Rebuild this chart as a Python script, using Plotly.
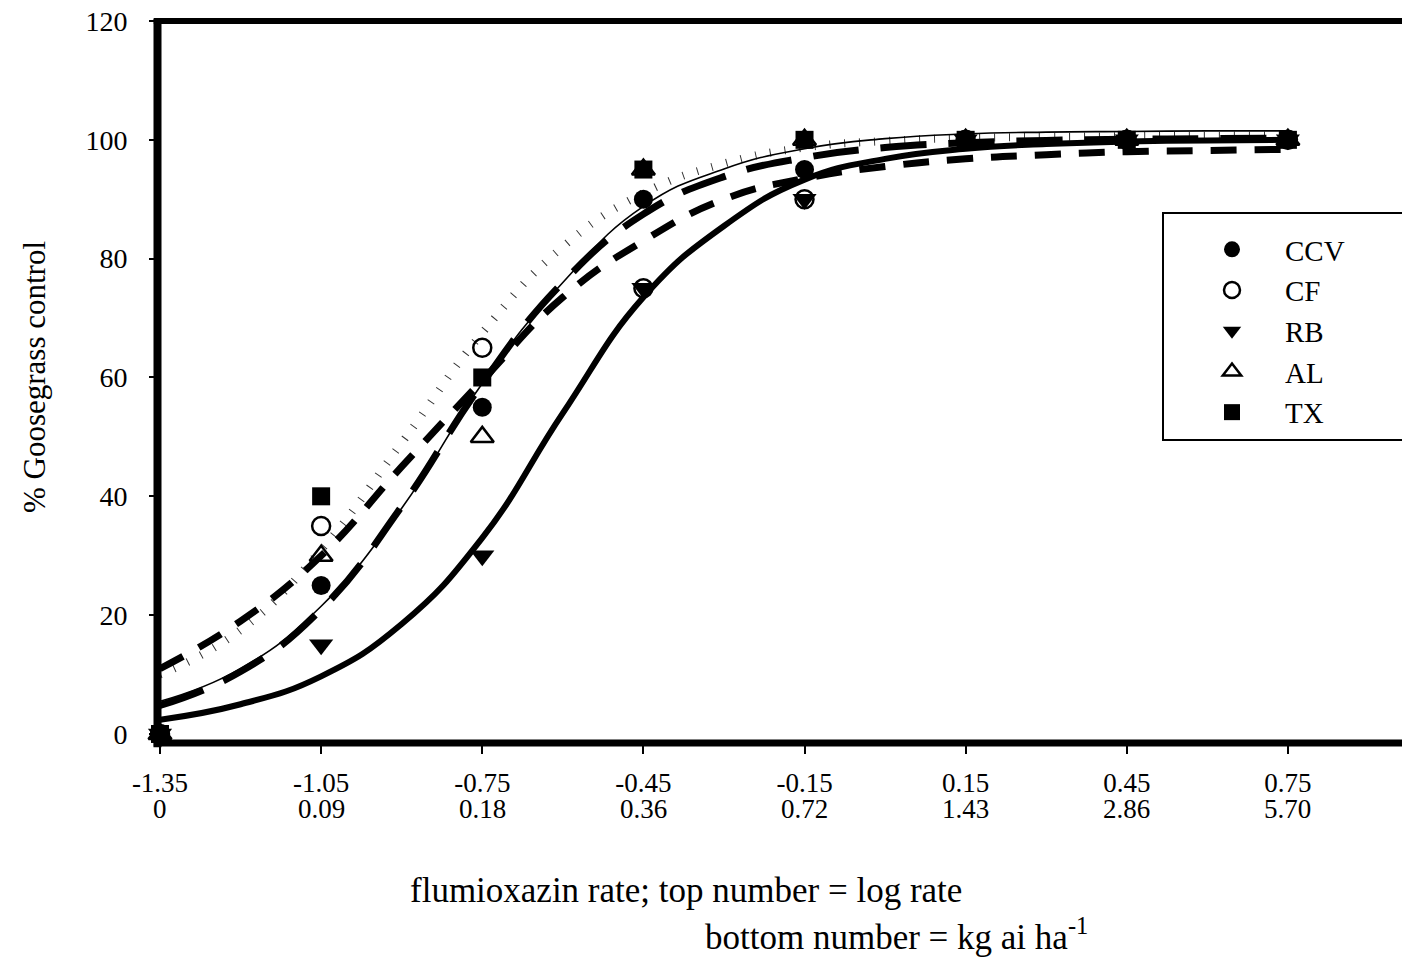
import plotly.graph_objects as go

# ---------------- data ----------------
log_rate = [-1.35, -1.05, -0.75, -0.45, -0.15, 0.15, 0.45, 0.75]
log_labels = ["-1.35", "-1.05", "-0.75", "-0.45", "-0.15", "0.15", "0.45", "0.75"]
kg_labels = ["0", "0.09", "0.18", "0.36", "0.72", "1.43", "2.86", "5.70"]

ccv = [0, 25, 55, 90, 95, 100, 100, 100]
cf = [0, 35, 65, 75, 90, 100, 100, 100]
rb = [0, 15, 30, 75, 90, 100, 100, 100]
al = [0, 30, 50, 95, 100, 100, 100, 100]
tx = [0, 40, 60, 95, 100, 100, 100, 100]

# fitted curves
curve_x = [-1.35, -1.2, -1.05, -0.9, -0.75, -0.6, -0.45, -0.3, -0.15, 0.0, 0.15, 0.3, 0.45, 0.6, 0.75]
ccv_fit = [5.5, 11, 21.5, 38, 59, 76, 88.8, 95.1, 98.5, 100.2, 101, 101.3, 101.4, 101.5, 101.5]
cf_fit = [11, 19, 30, 45, 59.5, 73.5, 83, 90, 93.5, 95.5, 96.8, 97.5, 98, 98.2, 98.4]
rb_fit = [2.4, 5, 9.7, 18.5, 33, 54, 73.5, 85.5, 93.3, 96.8, 98.5, 99.3, 99.7, 99.9, 100.0]
al_fit = [4.8, 10.5, 21, 38.3, 59, 76, 87.5, 93.8, 97, 98.7, 99.5, 99.9, 100.1, 100.2, 100.3]
tx_fit = [10, 17.5, 31, 49, 67.5, 82, 91, 96, 98.7, 99.8, 100.3, 100.5, 100.6, 100.7, 100.7]

y_ticks = [0, 20, 40, 60, 80, 100, 120]

FONT = "Liberation Serif, Times New Roman, serif"

fig = go.Figure()

# curves
curve_styles = [
    (tx_fit, dict(color="#333333", width=8, dash="1px,14px")),
    (cf_fit, dict(color="black", width=7, dash="26px,18px")),
    (al_fit, dict(color="black", width=7, dash="46px,22px")),
    (ccv_fit, dict(color="black", width=1.6)),
    (rb_fit, dict(color="black", width=6)),
]
for ys, ln in curve_styles:
    fig.add_trace(go.Scatter(x=curve_x, y=ys, mode="lines",
                             line=dict(shape="spline", smoothing=1.3, **ln),
                             showlegend=False, hoverinfo="skip"))

# points
point_styles = [
    ("CCV", ccv, dict(symbol="circle", size=19, color="black")),
    ("CF", cf, dict(symbol="circle-open", size=18, color="black", line=dict(width=2.5, color="black"))),
    ("RB", rb, dict(symbol="triangle-down", size=21, color="black")),
    ("AL", al, dict(symbol="triangle-up-open", size=20, color="black", line=dict(width=2.5, color="black"))),
    ("TX", tx, dict(symbol="square", size=18, color="black")),
]
for name, ys, mk in point_styles:
    fig.add_trace(go.Scatter(x=log_rate, y=ys, mode="markers", name=name,
                             marker=mk, cliponaxis=False))

# page is rendered with the browser's default 8px body margin
OFF = 8
PAGE_W, PAGE_H = 1410, 961
W, H = PAGE_W - OFF, PAGE_H - OFF
PLOT_L, PLOT_T, PLOT_R, PLOT_B = 160, 21, 1410, 743   # page pixels
L, T = PLOT_L - OFF, PLOT_T - OFF
R, B = (PAGE_W - PLOT_R), (PAGE_H - PLOT_B)
PW, PH = PLOT_R - PLOT_L, PLOT_B - PLOT_T

def px(xp):
    return (xp - PLOT_L) / PW

def py(yp):
    return (PLOT_B - yp) / PH

shapes = [
    # left axis line
    dict(type="line", xref="paper", yref="paper", x0=-0.002, x1=-0.002, y0=-0.006, y1=1.003,
         line=dict(color="black", width=8)),
    # top line
    dict(type="line", xref="paper", yref="paper", x0=-0.005, x1=1, y0=1.0, y1=1.0,
         line=dict(color="black", width=6)),
    # bottom line
    dict(type="line", xref="paper", yref="paper", x0=-0.005, x1=1, y0=0, y1=0,
         line=dict(color="black", width=7)),
    # legend frame
    dict(type="rect", xref="paper", yref="paper",
         x0=px(1163), x1=px(1403), y0=py(440), y1=py(213),
         line=dict(color="black", width=2), fillcolor="white", layer="below"),
]

annotations = []
for xv, lab in zip(log_rate, kg_labels):
    annotations.append(dict(x=xv, xref="x", y=0, yref="paper", yshift=-66, text=lab,
                            showarrow=False, yanchor="middle", xanchor="center",
                            font=dict(family=FONT, size=27, color="black")))

annotations += [
    dict(x=px(35), xref="paper", y=py(377), yref="paper",
         text="% Goosegrass control", textangle=-90, showarrow=False,
         xanchor="center", yanchor="middle",
         font=dict(family=FONT, size=31, color="black")),
    dict(x=px(686), xref="paper", y=py(890), yref="paper",
         text="flumioxazin rate; top number = log rate", showarrow=False,
         xanchor="center", yanchor="middle",
         font=dict(family=FONT, size=35, color="black")),
    dict(x=px(1090), xref="paper", y=py(934), yref="paper",
         text="bottom number = kg ai ha<sup>-1</sup>", showarrow=False,
         xanchor="right", yanchor="middle",
         font=dict(family=FONT, size=35, color="black")),
]

fig.update_layout(
    width=W, height=H,
    margin=dict(l=L, r=R, t=T, b=B, pad=0),
    plot_bgcolor="white", paper_bgcolor="white",
    font=dict(family=FONT, color="black"),
    shapes=shapes,
    annotations=annotations,
    legend=dict(x=px(1179), y=py(224), xanchor="left", yanchor="top",
                bgcolor="rgba(0,0,0,0)", borderwidth=0,
                font=dict(family=FONT, size=29, color="black"),
                itemwidth=96, tracegroupgap=0),
    xaxis=dict(range=[-1.35, -1.35 + PW / 537.1], showgrid=False, zeroline=False,
               showline=False, automargin=False, tickmode="array",
               tickvals=log_rate, ticktext=log_labels,
               ticks="outside", ticklen=10, tickwidth=2, tickcolor="black",
               tickfont=dict(family=FONT, size=27, color="black"),
               ticklabelstandoff=6, ticklabeloverflow="allow"),
    yaxis=dict(range=[-1.52, 120], showgrid=False, zeroline=False, showline=False,
               automargin=False, tickmode="array", tickvals=y_ticks,
               ticks="outside", ticklen=10, tickwidth=2, tickcolor="black",
               tickfont=dict(family=FONT, size=28, color="black"),
               ticklabelstandoff=16, ticklabeloverflow="allow"),
)

fig.write_html("out.html")
